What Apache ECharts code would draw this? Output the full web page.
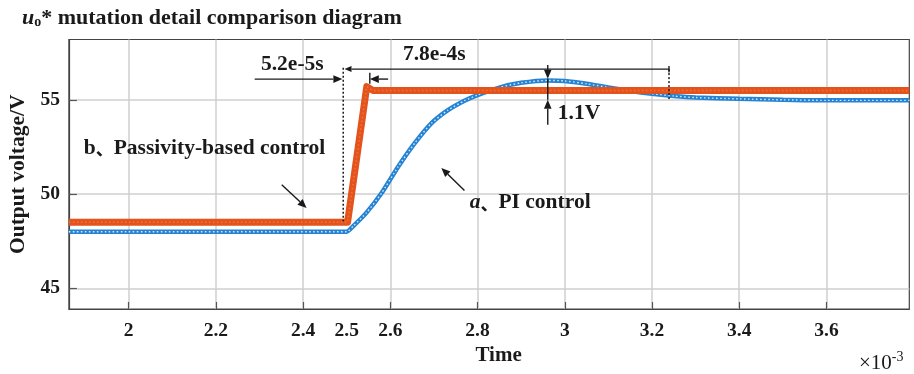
<!DOCTYPE html>
<html>
<head>
<meta charset="utf-8">
<script src="https://cdn.jsdelivr.net/npm/echarts@6/dist/echarts.min.js"></script>
<style>
  html, body { margin: 0; padding: 0; background: #fff; }
  #chart { width: 914px; height: 374px; }
</style>
</head>
<body>
<div id="chart"></div>
<script>
// Time is given in units of 1e-3 s (axis carries the ×10^-3 multiplier).
const xTickValues = [2, 2.2, 2.4, 2.6, 2.8, 3, 3.2, 3.4, 3.6];
const xLabelValues = [2, 2.2, 2.4, 2.5, 2.6, 2.8, 3, 3.2, 3.4, 3.6];
const yTickValues = [45, 50, 55];

// b、Passivity-based control
const pbcTime = [1.863, 2.502, 2.546, 2.560, 3.790];
const pbcVolt = [48.5, 48.5, 55.7, 55.5, 55.5];

// a、PI control
const piTime = [1.863, 2.500, 2.515, 2.545, 2.580, 2.618, 2.656, 2.694, 2.732, 2.770,
                2.800, 2.850, 2.900, 2.960, 3.000, 3.050, 3.100, 3.150, 3.200, 3.250,
                3.300, 3.400, 3.500, 3.600, 3.790];
const piVolt = [48.0, 48.0, 48.3, 49.0, 50.05, 51.45, 52.7, 53.75, 54.45, 54.95,
                55.25, 55.65, 55.9, 56.03, 56.0, 55.85, 55.65, 55.47, 55.32, 55.2,
                55.12, 55.05, 55.0, 54.97, 54.97];

const SERIF = '"Liberation Serif", "Times New Roman", "Noto Sans CJK SC", serif';
const INK = '#1a1a1a';

const zip = (a, b) => a.map((t, i) => [t, b[i]]);
const pbcData = zip(pbcTime, pbcVolt);
const piData = zip(piTime, piVolt);

const chart = echarts.init(document.getElementById('chart'), null, { renderer: 'canvas' });

const fmt = v => String(Math.round(v * 10) / 10);

chart.setOption({
  animation: false,
  backgroundColor: '#fff',
  title: {
    left: 17, top: 2,
    text: '{u|u}{o|o}{n|* mutation detail comparison diagram}',
    textStyle: {
      rich: {
        u: { fontFamily: SERIF, fontSize: 22, fontWeight: 'bold', fontStyle: 'italic', color: INK },
        o: { fontFamily: SERIF, fontSize: 14, fontWeight: 'bold', color: INK, verticalAlign: 'bottom', padding: [8, 0, 0, 0] },
        n: { fontFamily: SERIF, fontSize: 22, fontWeight: 'bold', color: INK }
      }
    }
  },
  grid: {
    left: 66.7, right: 4.7, top: 39.5, bottom: 65,
    show: true, borderColor: '#444', borderWidth: 1.2, backgroundColor: '#fff'
  },
  xAxis: {
    type: 'value', min: 1.863, max: 3.79,
    name: 'Time', nameLocation: 'middle', nameGap: 34,
    nameTextStyle: { fontFamily: SERIF, fontSize: 21, fontWeight: 'bold', color: INK, padding: [0, 0, 0, 19] },
    axisLine: { show: true, lineStyle: { color: '#444', width: 1.2 } },
    axisTick: { show: true, inside: true, length: 7, customValues: xTickValues, lineStyle: { color: '#555', width: 1.2 } },
    axisLabel: {
      customValues: xLabelValues, margin: 12, formatter: fmt,
      fontFamily: SERIF, fontSize: 19.5, fontWeight: 'bold', color: INK
    },
    splitLine: { show: true, lineStyle: { color: '#cfcfcf', width: 1.5 } }
  },
  yAxis: {
    type: 'value', min: 43.9, max: 58.2,
    name: 'Output voltage/V', nameLocation: 'middle', nameGap: 37, nameRotate: 90,
    nameTextStyle: { fontFamily: SERIF, fontSize: 21.5, fontWeight: 'bold', color: INK },
    axisLine: { show: true, lineStyle: { color: '#444', width: 1.2 } },
    axisTick: { show: true, inside: true, length: 8, customValues: yTickValues, lineStyle: { color: '#555', width: 1.2 } },
    axisLabel: {
      customValues: yTickValues, margin: 9,
      fontFamily: SERIF, fontSize: 19.5, fontWeight: 'bold', color: INK
    },
    splitLine: { show: true, lineStyle: { color: '#cfcfcf', width: 1.5 } }
  },
  series: [
    {
      name: 'a、PI control', type: 'line', data: piData, showSymbol: false, symbol: 'none',
      smooth: 0.2, z: 2,
      lineStyle: { color: '#2483d2', width: 4.5 }
    },
    {
      name: 'PI ripple', type: 'line', data: piData, showSymbol: false, symbol: 'none',
      smooth: 0.2, z: 3, silent: true,
      lineStyle: { color: '#ffffff', width: 1.4, type: [1.6, 2.4], opacity: 0.8 }
    },
    {
      name: 'b、Passivity-based control', type: 'line', data: pbcData, showSymbol: false, symbol: 'none',
      z: 4, lineStyle: { color: '#e5531c', width: 7, join: 'round' }
    },
    {
      name: 'PBC ripple', type: 'line', data: pbcData, showSymbol: false, symbol: 'none',
      z: 5, silent: true,
      lineStyle: { color: '#f28a5c', width: 1.5, type: [1.5, 2.5], opacity: 0.6 }
    }
  ]
});

// Annotations in data coordinates: dimension lines, pointer arrows and captions.
const arrows = [
  { from: [2.289, 56.1], to: [2.490, 56.1] },
  { from: [2.595, 56.1], to: [2.553, 56.1] },
  { from: [3.239, 56.63], to: [2.495, 56.63], head: 7 },
  { from: [2.961, 56.85], to: [2.961, 56.12] },
  { from: [2.961, 53.67], to: [2.961, 55.0] },
  { from: [2.351, 50.49], to: [2.408, 49.26] },
  { from: [2.770, 50.19], to: [2.717, 51.38] }
];
const plainLines = [
  { from: [2.961, 56.12], to: [2.961, 55.0] },
  { from: [2.553, 56.43], to: [2.553, 55.85] },
  { from: [3.239, 56.8], to: [3.239, 56.45] }
];
const dottedLines = [
  { from: [2.492, 56.7], to: [2.492, 48.55] },
  { from: [3.239, 56.63], to: [3.239, 54.95] }
];
const captions = [
  { at: [2.3034, 56.86], rich: [['n', '5.2e-5s']] },
  { at: [2.629, 57.4], rich: [['n', '7.8e-4s']] },
  { at: [2.984, 54.3], rich: [['n', '1.1V']] },
  { at: [1.897, 52.44], rich: [['n', 'b'], ['c', '、'], ['n', 'Passivity-based control']] },
  { at: [2.782, 49.53], rich: [['i', 'a'], ['c', '、'], ['n', 'PI control']] }
];

function buildAnnotations() {
  const px = p => chart.convertToPixel({ gridIndex: 0 }, p);
  const els = [];
  const stroke = { stroke: INK, lineWidth: 1.4 };
  arrows.forEach(a => {
    const p0 = px(a.from), p1 = px(a.to);
    const dx = p1[0] - p0[0], dy = p1[1] - p0[1];
    const len = Math.hypot(dx, dy), ux = dx / len, uy = dy / len;
    const h = a.head || 9, w = (a.head ? 3 : 3.8);
    const bx = p1[0] - ux * h, by = p1[1] - uy * h;
    els.push({ type: 'line', z: 100, silent: true, shape: { x1: p0[0], y1: p0[1], x2: bx, y2: by }, style: stroke });
    els.push({ type: 'polygon', z: 100, silent: true,
      shape: { points: [p1, [bx - uy * w, by + ux * w], [bx + uy * w, by - ux * w]] },
      style: { fill: INK } });
  });
  plainLines.forEach(l => {
    const p0 = px(l.from), p1 = px(l.to);
    els.push({ type: 'line', z: 100, silent: true, shape: { x1: p0[0], y1: p0[1], x2: p1[0], y2: p1[1] }, style: stroke });
  });
  dottedLines.forEach(l => {
    const p0 = px(l.from), p1 = px(l.to);
    els.push({ type: 'line', z: 100, silent: true, shape: { x1: p0[0], y1: p0[1], x2: p1[0], y2: p1[1] },
      style: { stroke: INK, lineWidth: 1.5, lineDash: [2, 2] } });
  });
  captions.forEach(c => {
    const p = px(c.at);
    els.push({ type: 'text', z: 101, silent: true, x: p[0], y: p[1],
      style: {
        text: c.rich.map(([k, s]) => '{' + k + '|' + s + '}').join(''),
        verticalAlign: 'middle', align: 'left',
        rich: {
          n: { fontFamily: SERIF, fontSize: 21.5, fontWeight: 'bold', fill: INK },
          i: { fontFamily: SERIF, fontSize: 21.5, fontWeight: 'bold', fontStyle: 'italic', fill: INK },
          c: { fontFamily: '"Noto Sans CJK SC", sans-serif', fontSize: 18, fontWeight: 'bold', fill: INK }
        }
      } });
  });
  // axis multiplier
  els.push({ type: 'text', z: 101, silent: true, left: 859, top: 350,
    style: {
      text: '{m|×10}{s|-3}',
      rich: {
        m: { fontFamily: SERIF, fontSize: 21, fill: INK, verticalAlign: 'bottom' },
        s: { fontFamily: SERIF, fontSize: 14, fill: INK, verticalAlign: 'top', padding: [0, 0, 10, 0] }
      }
    } });
  chart.setOption({ graphic: { elements: els } });
}
buildAnnotations();
</script>
</body>
</html>
